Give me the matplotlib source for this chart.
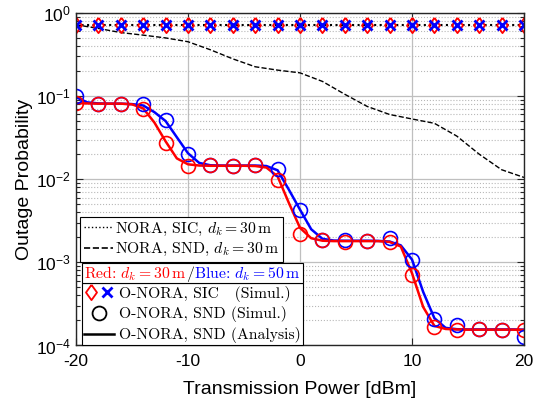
import numpy as np
import matplotlib
matplotlib.use('Agg')
import matplotlib.pyplot as plt
from matplotlib.font_manager import FontProperties
from matplotlib.legend_handler import HandlerTuple
from matplotlib.lines import Line2D
from matplotlib.patches import Rectangle
from matplotlib.offsetbox import TextArea, HPacker, AnchoredOffsetbox

plt.rcParams['font.family'] = ['Liberation Sans', 'DejaVu Sans']
plt.rcParams['mathtext.fontset'] = 'custom'
plt.rcParams['mathtext.rm'] = 'Liberation Sans'
plt.rcParams['mathtext.it'] = 'Liberation Sans:italic'
plt.rcParams['axes.unicode_minus'] = False

# Simulation points (every 2 dB)
power_sim = [-20, -18, -16, -14, -12, -10, -8, -6, -4, -2, 0,
             2, 4, 6, 8, 10, 12, 14, 16, 18, 20]
sic_red = [0.72, 0.72, 0.72, 0.72, 0.72, 0.72, 0.72, 0.72, 0.72, 0.72, 0.72,
           0.72, 0.72, 0.72, 0.72, 0.72, 0.72, 0.72, 0.72, 0.72, 0.72]
sic_blue = [0.72, 0.72, 0.72, 0.72, 0.72, 0.72, 0.72, 0.72, 0.72, 0.72, 0.72,
            0.72, 0.72, 0.72, 0.72, 0.72, 0.72, 0.72, 0.72, 0.72, 0.72]
nora_sic = [0.72, 0.72, 0.72, 0.72, 0.72, 0.72, 0.72, 0.72, 0.72, 0.72, 0.72,
            0.72, 0.72, 0.72, 0.72, 0.72, 0.72, 0.72, 0.72, 0.72, 0.72]
nora_snd = [0.72, 0.65, 0.58, 0.54, 0.50, 0.45, 0.36, 0.28, 0.225, 0.205, 0.19,
            0.15, 0.105, 0.075, 0.060, 0.053, 0.047, 0.033, 0.020, 0.013, 0.0105]
snd_sim_red = [0.082, 0.081, 0.081, 0.069, 0.0274, 0.0143, 0.0147, 0.0146, 0.0147, 0.0099, 0.0022,
               0.00185, 0.00177, 0.0018, 0.00177, 0.00071, 0.000167, 0.000155, 0.000157, 0.000155, 0.000155]
snd_sim_blue = [0.101, 0.081, 0.081, 0.080, 0.0515, 0.020, 0.0147, 0.0146, 0.0147, 0.0131, 0.0043,
                0.00185, 0.00185, 0.0018, 0.00195, 0.00108, 0.000206, 0.000178, 0.000157, 0.000155, 0.000128]

# Analysis curves (every 1 dB)
power_ana = list(range(-20, 21))
snd_ana_red = [0.082, 0.0815, 0.081, 0.081, 0.081, 0.0795, 0.071, 0.048, 0.0285, 0.0178,
               0.0151, 0.0146, 0.0145, 0.0145, 0.0145, 0.0145, 0.0144, 0.0138, 0.0108, 0.0052,
               0.0026, 0.00195, 0.00182, 0.0018, 0.0018, 0.0018, 0.0018, 0.0018, 0.00176, 0.00155,
               0.00074, 0.00029, 0.000172, 0.000158, 0.000156, 0.000155, 0.000155, 0.000155, 0.000155,
               0.000155, 0.000154]
snd_ana_blue = [0.097, 0.084, 0.0815, 0.081, 0.081, 0.080, 0.077, 0.064, 0.050, 0.032,
                0.0205, 0.0157, 0.0147, 0.0146, 0.0146, 0.0146, 0.0146, 0.0144, 0.0128, 0.0075,
                0.0043, 0.0025, 0.00192, 0.00183, 0.00182, 0.00182, 0.00182, 0.00181, 0.00178, 0.0016,
                0.00108, 0.00044, 0.000213, 0.000163, 0.000157, 0.000156, 0.000156, 0.000156, 0.000156,
                0.000156, 0.000155]

diamond = [(0, 1), (0.72, 0), (0, -1), (-0.72, 0), (0, 1)]

fig = plt.figure(figsize=(5.43, 4.03), dpi=100)
ax = fig.add_axes([0.140, 0.1427, 0.825, 0.8253])

ax.plot(power_sim, nora_snd, '--', color='k', lw=1.0)
ax.plot(power_sim, nora_sic, ':', color='k', lw=1.5)
ax.plot(power_ana, snd_ana_blue, '-', color='b', lw=1.8)
ax.plot(power_ana, snd_ana_red, '-', color='r', lw=1.8)
ax.plot(power_sim, snd_sim_blue, 'o', ls='none', mfc='none', mec='b', ms=10, mew=1.2)
ax.plot(power_sim, snd_sim_red, 'o', ls='none', mfc='none', mec='r', ms=10, mew=1.2)
ax.plot(power_sim, sic_red, marker=diamond, ls='none', mfc='none', mec='r', ms=11, mew=1.3)
ax.plot(power_sim, sic_blue, 'x', ls='none', color='b', ms=7, mew=2)

ax.set_yscale('log')
ax.set_xlim(-20, 20)
ax.set_ylim(1e-4, 1)
ax.set_xticks([-20, -10, 0, 10, 20])
ax.set_xlabel('Transmission Power [dBm]', fontsize=14, labelpad=9)
ax.set_ylabel('Outage Probability', fontsize=14, labelpad=2)
ax.tick_params(which='both', direction='in', top=True, right=True, labelsize=12.5,
               color='0.15', width=0.8)
ax.tick_params(axis='x', pad=6)
ax.tick_params(which='major', length=5)
ax.tick_params(which='minor', length=3)
ax.tick_params(axis='x', which='minor', bottom=False, top=False)
ax.grid(True, which='major', color='0.75', lw=0.9)
ax.grid(True, which='minor', axis='y', color='0.72', ls=':', lw=0.8)
for s in ax.spines.values():
    s.set_color('0.15')
    s.set_linewidth(1.0)

cm_font = FontProperties(family='cmr10', math_fontfamily='cm', size=11.3)

# legend for NORA baselines
h1 = [Line2D([], [], ls=':', color='k', lw=1.0),
      Line2D([], [], ls='--', color='k', lw=1.2)]
leg1 = ax.legend(h1, [r'NORA, SIC, $d_k = 30\,\mathrm{m}$', r'NORA, SND, $d_k = 30\,\mathrm{m}$'],
                 loc='upper left', bbox_to_anchor=(0.009, 0.3856), borderaxespad=0,
                 prop=cm_font, fancybox=False, framealpha=1, edgecolor='k',
                 handlelength=1.9, handletextpad=0.1, labelspacing=0.22,
                 borderpad=0.22)
leg1.get_frame().set_linewidth(0.8)
ax.add_artist(leg1)

# legend for O-NORA results
h2 = [(Line2D([], [], marker=diamond, ls='none', mfc='none', mec='r', ms=11, mew=1.3),
       Line2D([], [], marker='x', ls='none', color='b', ms=7, mew=2)),
      Line2D([], [], marker='o', ls='none', mfc='none', mec='k', ms=10, mew=1.3),
      Line2D([], [], ls='-', color='k', lw=1.8)]
labels2 = ['O-NORA, SIC   (Simul.)', 'O-NORA, SND (Simul.)', 'O-NORA, SND (Analysis)']
leg2 = ax.legend(h2, labels2, loc='upper left', mode='expand',
                 bbox_to_anchor=(0.0127, 0.0, 0.4933, 0.187), borderaxespad=0,
                 prop=cm_font, fancybox=False, framealpha=1, edgecolor='k',
                 handlelength=1.9, handletextpad=0.3, labelspacing=0.3,
                 borderpad=0.15, handler_map={tuple: HandlerTuple(ndivide=None, pad=0.2)})
leg2.get_frame().set_linewidth(0.8)

# header row with coloured text
ax.add_patch(Rectangle((0.0127, 0.187), 0.4933, 0.06, transform=ax.transAxes,
                       facecolor='w', edgecolor='k', lw=0.8, zorder=6))
parts = [(r'Red: $d_k = 30\,\mathrm{m}$', 'r'), ('/', 'k'), (r'Blue: $d_k = 50\,\mathrm{m}$', 'b')]
areas = [TextArea(s, textprops=dict(color=c, fontproperties=cm_font)) for s, c in parts]
packed = HPacker(children=areas, align='baseline', pad=0, sep=0)
anch = AnchoredOffsetbox(loc='center', child=packed, pad=0, borderpad=0, frameon=False,
                         bbox_to_anchor=(0.0127 + 0.4933 / 2, 0.187 + 0.03),
                         bbox_transform=ax.transAxes)
anch.set_zorder(7)
ax.add_artist(anch)

fig.savefig('out.png', dpi=100)
